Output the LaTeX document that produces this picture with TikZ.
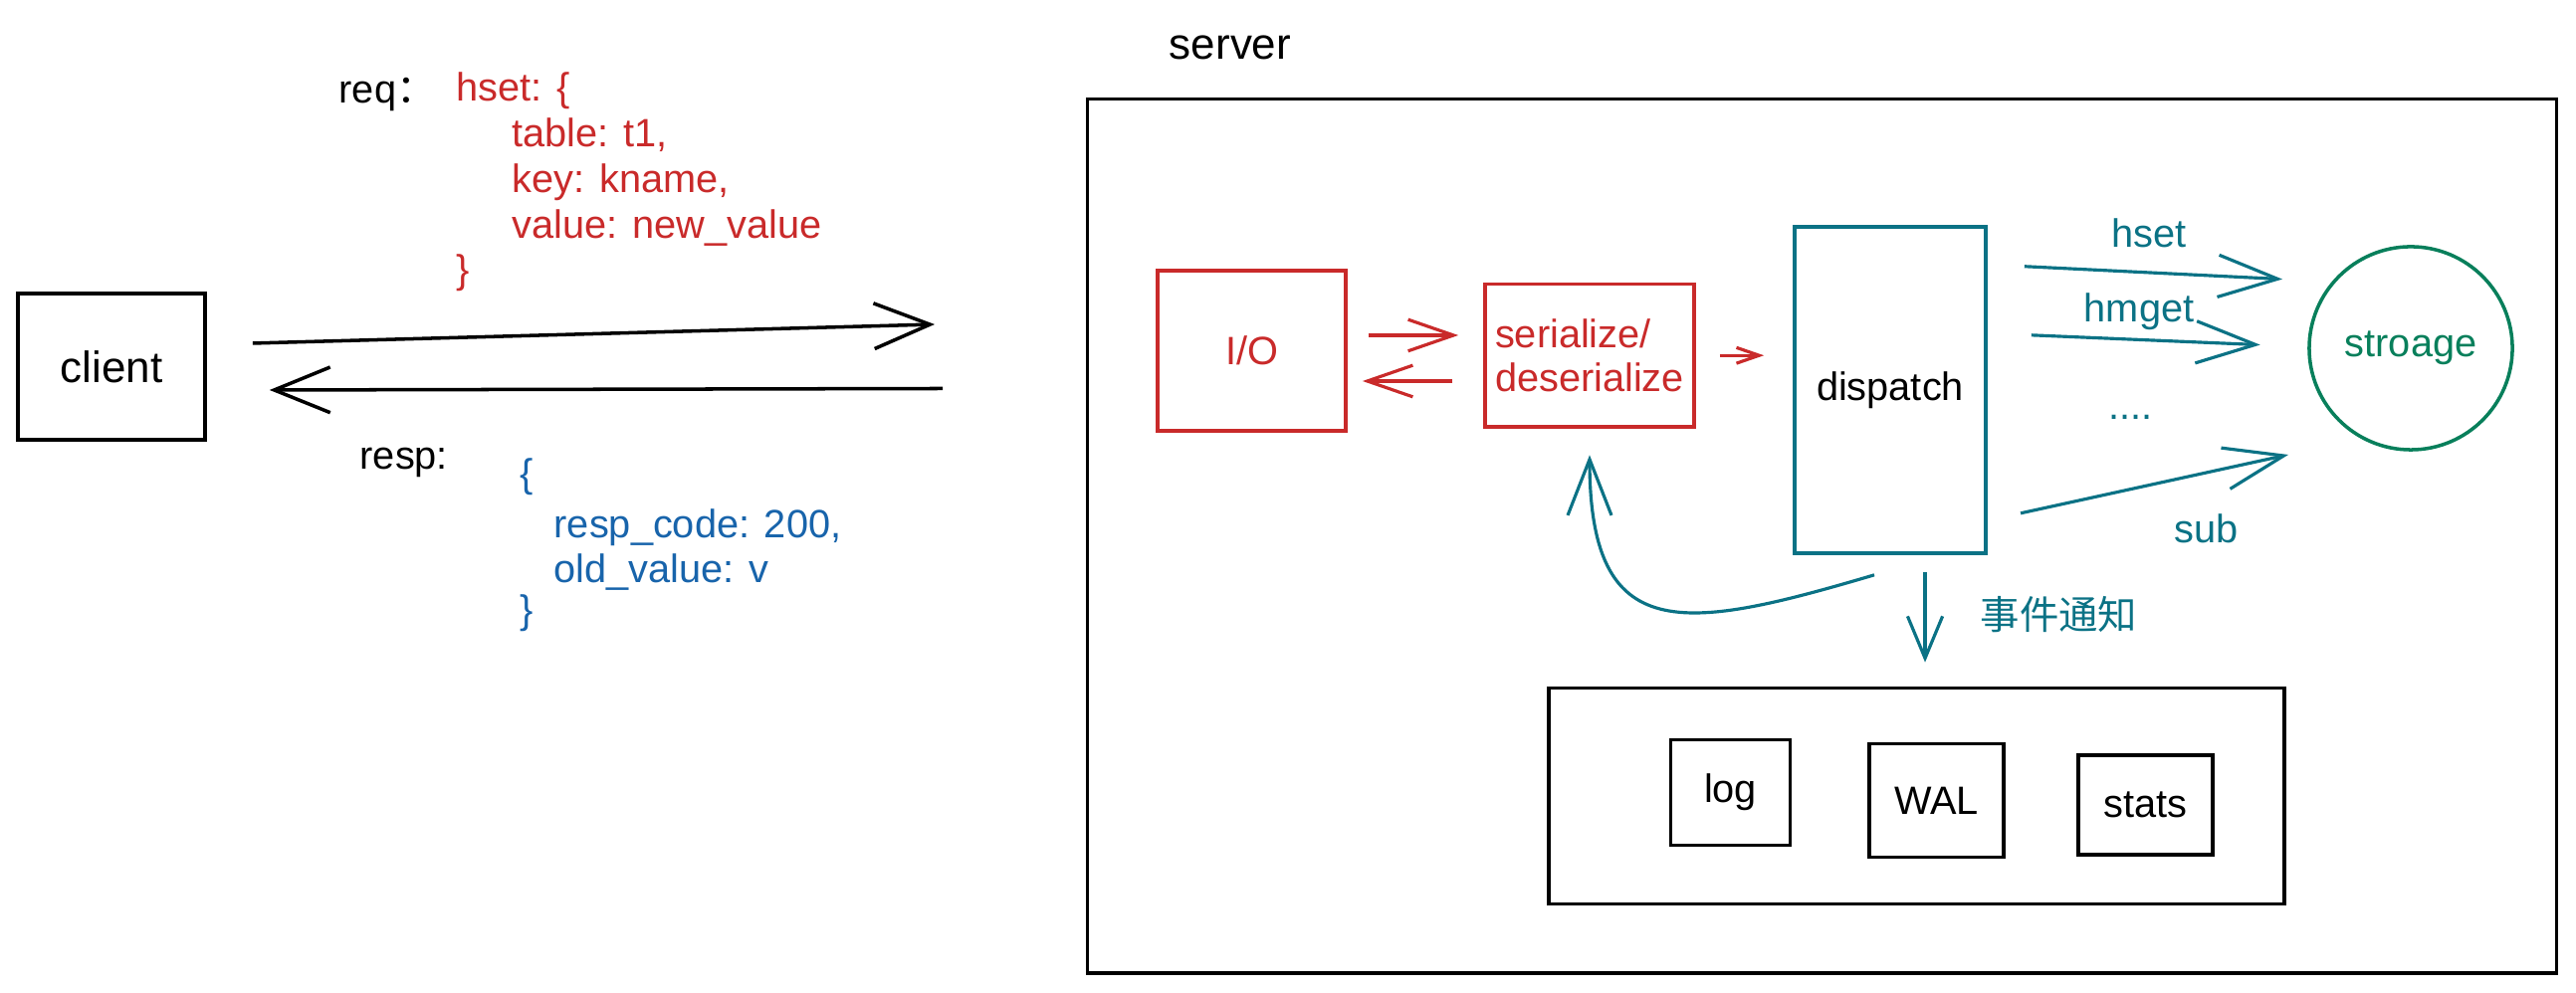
\documentclass[tikz,border=0pt]{standalone}
\usepackage{fontspec}
\setmainfont{Liberation Sans}
\newfontfamily\cjk{Noto Sans CJK SC}
\usetikzlibrary{arrows.meta}
\definecolor{exred}{HTML}{C92A2A}
\definecolor{exblue}{HTML}{1864AB}
\definecolor{exteal}{HTML}{0B7285}
\definecolor{exgreen}{HTML}{087F5B}
\begin{document}
\begin{tikzpicture}[x=0.01cm,y=0.01cm]
\tikzstyle{every node}=[font=\fontsize{11.3}{13}\selectfont, inner sep=0pt]
\tikzstyle{box}=[draw, line width=1pt]
\tikzstyle{line}=[anchor=base west]
\tikzstyle{blackarr}=[line width=1pt, -{Straight Barb[length=16pt,width=13pt]}]
\tikzstyle{redarr}=[exred, line width=0.9pt, -{Straight Barb[length=13pt,width=9pt]}]
\tikzstyle{tealarr}=[exteal, line width=0.9pt, -{Straight Barb[length=17pt,width=12pt]}]
\useasboundingbox (0,0) rectangle (2588,998);
% client side
\node[box, minimum width=18.8mm, minimum height=14.7mm, font=\fontsize{12.5}{14}\selectfont] (client) at (112,629.5) {client};
\coordinate (reqend)    at (939,672);
\coordinate (respstart) at (947,607.5);
\draw[blackarr] ([shift={(46,23.5)}]client.east) -- (reqend);
\draw[blackarr] (respstart) -- ([shift={(63,-23.5)}]client.east);
\node[line] (req) at (340,894) {req{\cjk ：}};
\node[line, text=exred] (reqopen)  at (458,896) {hset: \{};
\node[line, text=exred] (reqtable) at (514,850) {table: t1,};
\node[line, text=exred] (reqkey)   at (514,804) {key: kname,};
\node[line, text=exred] (reqvalue) at (514,758.5) {value: new\_value};
\node[line, text=exred] (reqclose) at (458,713) {\}};
\node[line] (resp) at (361,526) {resp:};
\node[line, text=exblue] (respopen)  at (522,508) {\{};
\node[line, text=exblue] (respcode)  at (556,457) {resp\_code: 200,};
\node[line, text=exblue] (respold)   at (556,412.5) {old\_value: v};
\node[line, text=exblue] (respclose) at (522,371) {\}};
% server side
\node[box, minimum width=147.5mm, minimum height=87.8mm] (server) at (1830.5,459) {};
\node[font=\fontsize{12.5}{14}\selectfont] (serverlabel) at (1236,950) {server};
\node[box, draw=exred, text=exred, minimum width=18.9mm, minimum height=16.1mm] (io) at (1257.5,645.5) {I/O};
\node[box, draw=exred, text=exred, minimum width=21mm, minimum height=14.35mm, align=left, font=\fontsize{11.3}{12.7}\selectfont] (ser) at (1597,640.75) {serialize/\\deserialize};
\draw[redarr, shorten <=2.1mm, shorten >=2.5mm] ([yshift=1.55mm]io.east) -- ([yshift=1.55mm]io.east -| ser.west);
\draw[redarr, shorten <=3.1mm, shorten >=1.5mm] ([yshift=-3.05mm]io.east -| ser.west) -- ([yshift=-3.05mm]io.east);
\node[box, draw=exteal, minimum width=19.2mm, minimum height=32.8mm] (dispatch) at (1899,606) {dispatch};
\draw[redarr, -{Straight Barb[length=6.5pt,width=4.5pt]}, shorten <=2.4mm, shorten >=2.9mm] (ser.east) -- (ser.east -| dispatch.west);
\node[circle, draw=exgreen, line width=1pt, text=exgreen, minimum size=20.4mm] (storage) at (2422,648) {stroage};
\coordinate (hsetend)  at (2293,717.4);
\coordinate (hmgetend) at (2270.7,651.4);
\coordinate (subend)   at (2299,541);
\draw[tealarr, shorten <=3.7mm] ([yshift=12.6mm]dispatch.east) -- (hsetend);
\draw[tealarr, shorten <=4.4mm] ([yshift=5.7mm]dispatch.east) -- (hmgetend);
\draw[tealarr, shorten <=3.4mm] ([yshift=-13.1mm]dispatch.east) -- (subend);
\node[text=exteal] (hsetlabel)  at (2159,764) {hset};
\node[text=exteal] (hmgetlabel) at (2149,685) {hmget};
\node[text=exteal] (dots)       at (2140.7,579) {....};
\node[text=exteal] (sublabel)   at (2216.6,467) {sub};
\draw[tealarr, -{Straight Barb[length=16pt,width=12.5pt]}, shorten >=2.65mm] ([shift={(-16,-20)}]dispatch.south) .. controls (1690,363) and (1597,348) .. (ser.south);
% event consumers
\node[box, minimum width=73.9mm, minimum height=21.7mm] (events) at (1925.5,198) {};
\node[box, minimum width=12mm, minimum height=10.6mm] (log) at (1738.5,201.6) {log};
\node[box, minimum width=13.5mm, minimum height=11.4mm] (wal) at (1945.4,193.4) {WAL};
\node[box, minimum width=13.5mm, minimum height=10mm] (stats) at (2155.5,189) {stats};
\draw[tealarr, -{Straight Barb[length=12pt,width=10pt]}, shorten <=1.7mm, shorten >=2.4mm] ([xshift=3.5mm]dispatch.south) -- ([xshift=3.5mm]dispatch.south |- events.north);
\node[anchor=west, text=exteal, font=\cjk\fontsize{11.2}{13}\selectfont] (notice) at (1989,380) {事件通知};
\end{tikzpicture}
\end{document}
